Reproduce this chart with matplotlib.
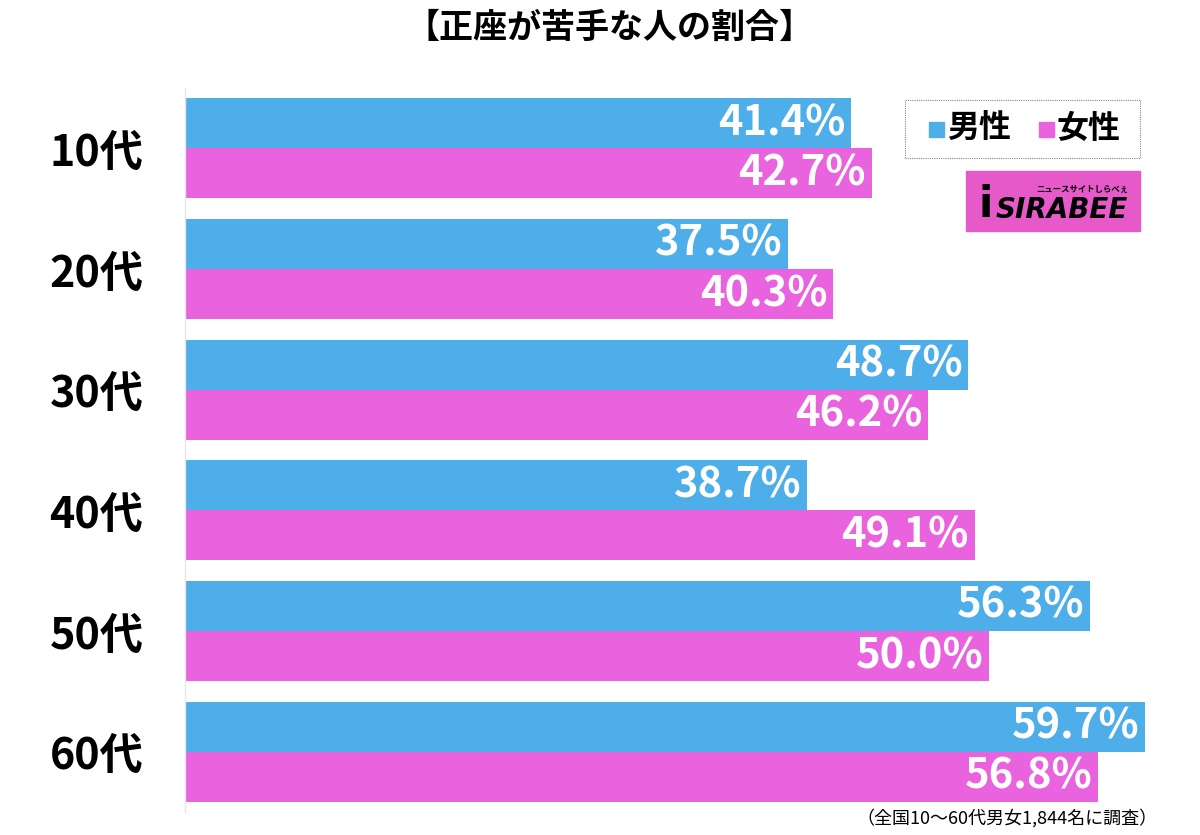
import matplotlib
matplotlib.use("Agg")
import matplotlib.pyplot as plt
from matplotlib.patches import Rectangle
import numpy as np

plt.rcParams['font.family'] = ['Noto Sans CJK JP', 'DejaVu Sans']

categories = ['10代', '20代', '30代', '40代', '50代', '60代']
male = [41.4, 37.5, 48.7, 38.7, 56.3, 59.7]
female = [42.7, 40.3, 46.2, 49.1, 50.0, 56.8]
series_names = ['男性', '女性']
title = '【正座が苦手な人の割合】'
note = '（全国10〜60代男女1,844名に調査）'

blue = '#4daee9'
pink = '#e963de'

fig = plt.figure(figsize=(12, 8.35), dpi=100)
W, H = 1200, 835
# axes: left 185px, right 1185px, top 88px, bottom 812px
ax = fig.add_axes([185 / W, 1 - 812 / H, 1000 / W, 724 / H])

y = np.arange(len(categories))
h = 0.415
ax.barh(y - h / 2, male, height=h, color=blue)
ax.barh(y + h / 2, female, height=h, color=pink)

ax.set_xlim(0, 1000 / 16.08)
ax.set_ylim(len(categories) - 0.5, -0.5)

for i in range(len(categories)):
    ax.text(male[i] - 0.35, y[i] - h / 2, f'{male[i]:.1f}%', ha='right', va='center',
            color='white', fontsize=30, fontweight='bold')
    ax.text(female[i] - 0.35, y[i] + h / 2, f'{female[i]:.1f}%', ha='right', va='center',
            color='white', fontsize=30, fontweight='bold')

ax.set_yticks(y)
ax.set_yticklabels(categories, fontsize=31, fontweight='bold')
ax.tick_params(axis='y', length=0, pad=30)
ax.set_xticks([])
for s in ['top', 'right', 'bottom']:
    ax.spines[s].set_visible(False)
ax.spines['left'].set_color('#e6e6e6')
ax.spines['left'].set_linewidth(1)

fig.text(610 / W, 1 - 27 / H, title, ha='center', va='center', fontsize=24.5, fontweight='bold')
fig.text(1158 / W, 1 - 818 / H, note, ha='right', va='center', fontsize=13)

# legend box
fig.patches.append(Rectangle((905 / W, 1 - 158 / H), 235 / W, 58 / H, transform=fig.transFigure,
                             fill=False, edgecolor='#888888', linestyle=(0, (1, 1)), linewidth=0.8))
for x0, col, name in [(929, blue, series_names[0]), (1039, pink, series_names[1])]:
    fig.patches.append(Rectangle((x0 / W, 1 - 137 / H), 15 / W, 15 / H, transform=fig.transFigure,
                                 color=col))
    fig.text((x0 + 18) / W, 1 - 129 / H, name, ha='left', va='center', fontsize=23, fontweight='bold')

# logo
fig.patches.append(Rectangle((966 / W, 1 - 231 / H), 174 / W, 60 / H, transform=fig.transFigure,
                             color='#e659c8'))
fig.text(1062 / W, 1 - 210 / H, 'SIRABEE', ha='center', va='center', fontsize=20,
         fontweight='bold', style='italic', color='black', family='DejaVu Sans')
fig.text(1082 / W, 1 - 189 / H, 'ニュースサイトしらべぇ', ha='center', va='center', fontsize=6,
         fontweight='bold', color='black')
fig.text(986 / W, 1 - 205 / H, 'i', ha='center', va='center', fontsize=30,
         fontweight='bold', color='black', family='DejaVu Sans')

fig.savefig('out.png', dpi=100)
